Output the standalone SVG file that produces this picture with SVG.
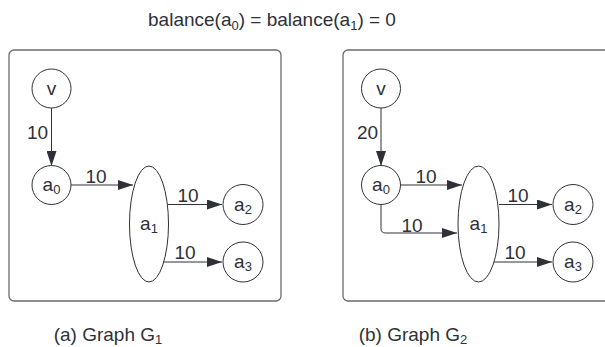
<svg xmlns="http://www.w3.org/2000/svg" width="605" height="347" viewBox="0 0 605 347">
<defs>
<marker id="ah" markerWidth="15" markerHeight="10" refX="15" refY="5" orient="auto" markerUnits="userSpaceOnUse">
<path d="M0,0 L15,5 L0,10 Z" fill="#2e3138"/>
</marker>
<style>
text{font-family:"Liberation Sans",Arial,sans-serif;fill:#2e3138;font-size:19px}
.mid{text-anchor:middle}
.lbl{font-size:20px}
.box{fill:#fff;stroke:#6b6b6b;stroke-width:1.3}
.nd{fill:#fff;stroke:#2e3138;stroke-width:1}
.e{fill:none;stroke:#2e3138;stroke-width:1;marker-end:url(#ah)}
.sub{font-size:13px}
</style>
</defs>
<rect width="605" height="347" fill="#fff"/>
<text id="title" x="272" y="26" class="mid">balance(a<tspan class="sub" dy="4">0</tspan><tspan dy="-4">) = balance(a</tspan><tspan class="sub" dy="4">1</tspan><tspan dy="-4">) = 0</tspan></text>

<rect id="boxA" class="box" x="9" y="50" width="272" height="251" rx="5"/>
<rect id="boxB" class="box" x="343" y="50" width="275" height="251" rx="5"/>

<g id="connectors">
<path class="e" d="M51.5,108 V166"/>
<path class="e" d="M71,185 H133"/>
<path class="e" d="M168,204.5 H222"/>
<path class="e" d="M164,262 H222"/>
<path class="e" d="M381,108 V166"/>
<path class="e" d="M401,185 H462"/>
<path class="e" d="M381,204 V228.5 Q381,233 385.5,233 H457"/>
<path class="e" d="M499,204.5 H552"/>
<path class="e" d="M494,262 H552"/>
</g>
<g id="edge-labels" class="lbl">
<text x="37.5" y="139" class="mid">10</text>
<text x="96" y="183" class="mid">10</text>
<text x="188" y="202" class="mid">10</text>
<text x="185" y="259" class="mid">10</text>
<text x="367.5" y="139" class="mid">20</text>
<text x="426" y="183" class="mid">10</text>
<text x="412" y="232" class="mid">10</text>
<text x="518" y="202" class="mid">10</text>
<text x="515" y="259" class="mid">10</text>
</g>

<g id="A-v"><circle class="nd" cx="51.5" cy="88.5" r="19.5"/><text x="51.5" y="95" class="mid">v</text></g>
<g id="A-a0"><circle class="nd" cx="51.5" cy="185" r="19.5"/><text x="51.5" y="191" class="mid">a<tspan class="sub" dy="3">0</tspan></text></g>
<g id="A-a1"><ellipse class="nd" cx="149" cy="224" rx="19.5" ry="58"/><text x="149" y="230" class="mid">a<tspan class="sub" dy="3">1</tspan></text></g>
<g id="A-a2"><circle class="nd" cx="243" cy="204.5" r="20"/><text x="243" y="210.5" class="mid">a<tspan class="sub" dy="3">2</tspan></text></g>
<g id="A-a3"><circle class="nd" cx="243" cy="262" r="20"/><text x="243" y="268" class="mid">a<tspan class="sub" dy="3">3</tspan></text></g>

<g id="B-v"><circle class="nd" cx="381" cy="88.5" r="19.5"/><text x="381" y="95" class="mid">v</text></g>
<g id="B-a0"><circle class="nd" cx="381" cy="185" r="19.5"/><text x="381" y="191" class="mid">a<tspan class="sub" dy="3">0</tspan></text></g>
<g id="B-a1"><ellipse class="nd" cx="478.5" cy="224" rx="20.5" ry="58"/><text x="478.5" y="230" class="mid">a<tspan class="sub" dy="3">1</tspan></text></g>
<g id="B-a2"><circle class="nd" cx="573" cy="204.5" r="20"/><text x="573" y="210.5" class="mid">a<tspan class="sub" dy="3">2</tspan></text></g>
<g id="B-a3"><circle class="nd" cx="573" cy="262" r="20"/><text x="573" y="268" class="mid">a<tspan class="sub" dy="3">3</tspan></text></g>

<text id="capA" x="108" y="341" class="mid">(a) Graph G<tspan class="sub" dy="2.5">1</tspan></text>
<text id="capB" x="413" y="341" class="mid">(b) Graph G<tspan class="sub" dy="2.5">2</tspan></text>
</svg>
